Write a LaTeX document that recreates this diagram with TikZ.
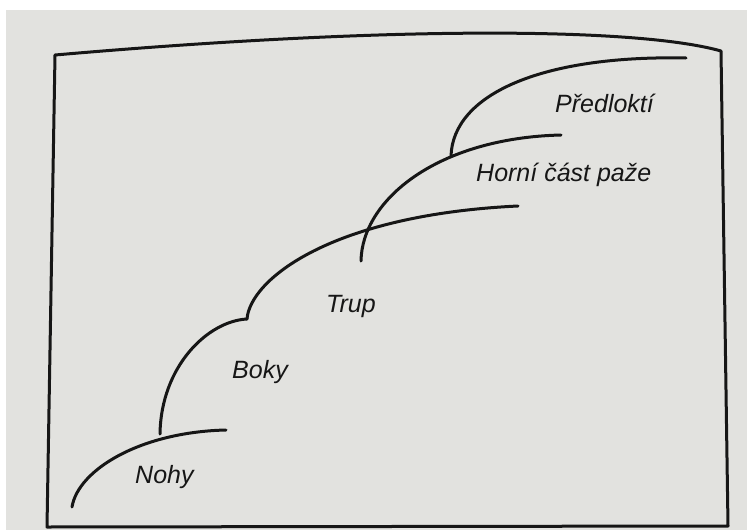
\documentclass[tikz,border=0pt]{standalone}
\usepackage{fontspec}
\setmainfont{Liberation Sans}
\definecolor{paper}{RGB}{226,226,223}
\definecolor{inkc}{RGB}{22,22,22}
\begin{document}
\begin{tikzpicture}[x=1pt,y=-1pt,line join=round,
  ink/.style={draw=inkc,line width=3pt,line cap=round},
  lbl/.style={font=\fontsize{25}{29}\selectfont\itshape,text=inkc,inner sep=0pt,anchor=base west}]
\useasboundingbox (0,0) rectangle (747,530);
\fill[white] (0,0) rectangle (747,530);
\fill[paper] (6,10) rectangle (747,530);
% frame
\coordinate (tl) at (55,55);
\coordinate (tr) at (721,51);
\coordinate (br) at (728,526);
\coordinate (bl) at (47,527);
\draw[ink,line cap=butt] (tl) .. controls (400,25) and (640,28) .. (tr) -- (br) -- (bl) -- cycle;
% curves
\coordinate (n0) at (72,507);
\coordinate (n1) at (226,430);
\coordinate (b0) at (160,434);
\coordinate (b1) at (247,319);
\coordinate (t1) at (518,206);
\coordinate (h0) at (361,261);
\coordinate (h1) at (561,135);
\coordinate (p0) at (451,156);
\coordinate (p1) at (686,58);
\draw[ink] (n0) .. controls (78,470) and (140,432) .. (n1);
\draw[ink] (b0) .. controls (161,366) and (208,321) .. (b1);
\draw[ink] (b1) .. controls (250,280) and (330,215) .. (t1);
\draw[ink] (h0) .. controls (362,200) and (437,138) .. (h1);
\draw[ink] (p0) .. controls (453,95) and (540,55) .. (p1);
% labels
\node[lbl] (pred) at (555,112) {Předloktí};
\node[lbl] (horni) at (476,181) {Horní část paže};
\node[lbl] (trup) at (326,312) {Trup};
\node[lbl] (boky) at (232,378) {Boky};
\node[lbl] (nohy) at (135,483) {Nohy};
\end{tikzpicture}
\end{document}
